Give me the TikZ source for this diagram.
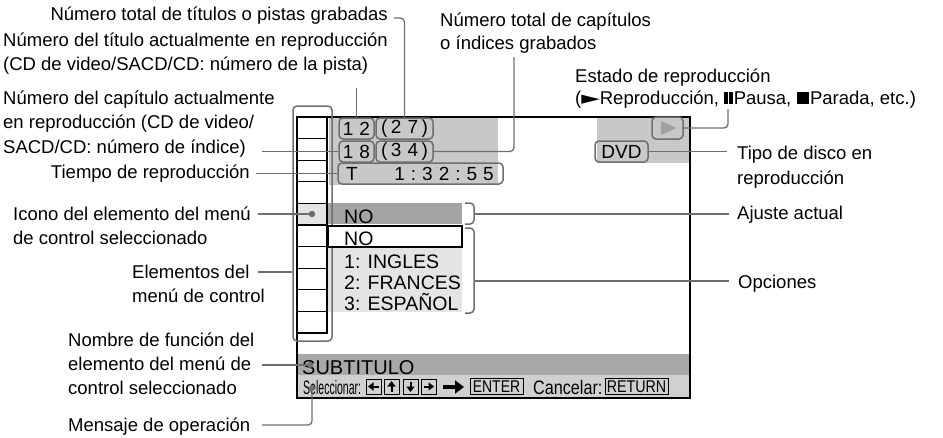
\documentclass[tikz,border=0pt]{standalone}
\usepackage{fontspec}
\setmainfont{Liberation Sans}
\newfontfamily\dejavu{DejaVu Sans}
\usepackage{graphicx}
\usetikzlibrary{arrows.meta,calc}
\definecolor{lg}{HTML}{6E6E6E}
\definecolor{topgray}{HTML}{C8C8C8}
\definecolor{selgray}{HTML}{A4A4A4}
\definecolor{optgray}{HTML}{E4E4E4}
\definecolor{subgray}{HTML}{A8A8A8}
\definecolor{botgray}{HTML}{D0D0D0}
\definecolor{playgray}{HTML}{A0A0A0}
\newcommand\lblfont{\fontsize{18.5}{24}\selectfont}
\newcommand\scrfont{\fontsize{19.5}{21}\selectfont}
\newcommand\cntfont{\fontsize{19}{21}\selectfont}
\newcommand\gp{\hspace{6pt}}
\newcommand\gq{\hspace{3.5pt}}
\newcommand\plyglyph{{\dejavu\scalebox{1.3}[1]{►}}}
\newcommand\pausglyph{\rule{3.5pt}{12.5pt}\hspace{1.5pt}\rule{3.5pt}{12.5pt}\hspace{1pt}}
\newcommand\stopglyph{\rule{12.5pt}{12.5pt}\hspace{1pt}}
\begin{document}
\begin{tikzpicture}[x=1pt,y=-1pt,
  lbl/.style={inner sep=0pt, align=left, font=\lblfont},
  leader/.style={draw=lg, line width=1.3pt},
  rbox/.style={draw=lg, line width=1.5pt, rounded corners=4pt, inner sep=0pt, minimum height=21pt, font=\cntfont},
  keybox/.style={draw=black, line width=0.8pt, inner sep=0pt, minimum width=15pt, minimum height=15pt},
  txtbox/.style={draw=black, line width=0.8pt, inner sep=0pt, minimum height=16pt, font=\fontsize{17}{17}\selectfont},
  scrtxt/.style={anchor=base west, inner sep=0pt, font=\scrfont},
  dotm/.style={circle, fill=lg, inner sep=0pt, minimum size=6.5pt},
  bracket/.style={draw=lg, line width=1.5pt, rounded corners=4pt},
  keyarrow/.style={line width=2pt, -{Triangle[length=5.5pt,width=8pt]}},
]
\useasboundingbox (0,0) rectangle (943,437);

% ---- screen backgrounds ----
\fill[topgray] (329,117) rectangle (498,185);
\fill[topgray] (597,117) rectangle (690,163);
\fill[selgray] (328,203) rectangle (462,224);
\fill[optgray] (328,247) rectangle (462,312);
\fill[subgray] (297,354) rectangle (690,375);
\fill[botgray] (297,375) rectangle (690,398);
\fill[optgray] (297,203) rectangle (327,225);

% ---- icon column ----
\draw[line width=1.2pt] (297,117) rectangle (327,333);
\foreach \i in {1,...,9} \draw[line width=1.2pt] (297,{117+\i*21.6}) -- (327,{117+\i*21.6});

% ---- frame ----
\draw[line width=2pt] (297,117) rectangle (690,398);

\node[draw=lg, line width=1.5pt, rounded corners=4pt, inner sep=0pt, minimum width=39pt, minimum height=235pt] (icons) at (312.5,223.5) {};

% ---- menu area ----
\node[draw=black, line width=1.2pt, fill=white, inner sep=0pt, minimum width=134pt, minimum height=21pt] (nobox) at (395,236.5) {};
\node[scrtxt] (cur) at (344,223) {NO};
\node[scrtxt] (opt0) at (344,245) {NO};
\node[scrtxt] (opt1) at (344,268) {1: INGLES};
\node[scrtxt] (opt2) at (344,289) {2: FRANCES};
\node[scrtxt] (opt3) at (344,310) {3: ESPAÑOL};

\draw[bracket] (465,203) -- (474,203) -- (474,224) -- (465,224);
\draw[bracket] (465,228) -- (474,228) -- (474,313) -- (465,313);
\coordinate (br1) at (474,214);
\coordinate (br2) at (474,281);

% ---- counters ----
\node[rbox, minimum width=35pt] (c12) at (356.5,128.5) {1\gp 2};
\node[rbox, minimum width=57pt] (c27) at (404.5,128.5) {(\gq 2\gp 7\gq )};
\node[rbox, minimum width=35pt] (c18) at (356.5,151.5) {1\gp 8};
\node[rbox, minimum width=57pt] (c34) at (404.5,151.5) {(\gq 3\gp 4\gq )};
\node[rbox, minimum width=165pt] (ctime) at (420.5,173.5) {};
\node[anchor=base west, inner sep=0pt, font=\cntfont] (tT) at (346,180) {T};
\node[anchor=base east, inner sep=0pt, font=\cntfont] (tval) at (494,180) {1\gp :\gp 3\gp 2\gp :\gp 5\gp 5};

\node[rbox, minimum width=53pt] (dvd) at (621.5,151.5) {DVD};
\node[rbox, minimum width=31pt, minimum height=22pt] (play) at (667.5,128) {};
\fill[playgray] (661,121) -- (676,128) -- (661,135) -- cycle;

% ---- bottom bars ----
\node[anchor=base west, inner sep=0pt, font=\fontsize{20}{20}\selectfont] (subt) at (302,374) {SUBTITULO};
\node[anchor=base west, inner sep=0pt, font=\fontsize{19.5}{19.5}\selectfont] (sel) at (303,394) {\scalebox{0.54}[1]{Seleccionar:}};
\node[keybox] (kl) at (373.5,386.5) {};
\node[keybox] (ku) at (391.5,386.5) {};
\node[keybox] (kd) at (410.5,386.5) {};
\node[keybox] (kr) at (428.5,386.5) {};
\draw[keyarrow] ($(kl)+(5,0)$) -- ($(kl)+(-5.5,0)$);
\draw[keyarrow] ($(ku)+(0,5)$) -- ($(ku)+(0,-5.5)$);
\draw[keyarrow] ($(kd)+(0,-5)$) -- ($(kd)+(0,5.5)$);
\draw[keyarrow] ($(kr)+(-5,0)$) -- ($(kr)+(5.5,0)$);
\coordinate (bigA) at (443,387);
\coordinate (bigB) at (464,387);
\draw[line width=4pt, -{Triangle[length=9pt,width=13pt]}] (bigA) -- (bigB);
\node[txtbox, minimum width=53pt] (enter) at (496.5,386.5) {\scalebox{0.82}[1]{ENTER}};
\node[anchor=base west, inner sep=0pt, font=\fontsize{19.5}{19.5}\selectfont] (canc) at (533,394) {\scalebox{0.83}[1]{Cancelar:}};
\node[txtbox, minimum width=63pt] (ret) at (636.5,386.5) {\scalebox{0.84}[1]{RETURN}};

% ---- dots ----
\node[dotm] (icondot) at (312,214) {};
\node[dotm, minimum size=6pt] (subdot) at (310,365) {};
\node[dotm, minimum size=6pt] (msgdot) at (312,388) {};

% ---- labels (base anchor = baseline of last line) ----
\node[lbl, anchor=base east] (l1) at (388,20) {Número total de títulos o pistas grabadas};
\node[lbl, anchor=base west] (l2) at (3,70) {Número del título actualmente en reproducción\\(CD de video/SACD/CD: número de la pista)};
\node[lbl, anchor=base west, font=\fontsize{18.5}{23}\selectfont] (l3) at (440,49) {Número total de capítulos\\o índices grabados};
\node[lbl, anchor=base west, font=\fontsize{18.5}{24.5}\selectfont] (l4) at (3,153) {Número del capítulo actualmente\\en reproducción (CD de video/\\SACD/CD: número de índice)};
\node[lbl, anchor=base east] (l5) at (250,178) {Tiempo de reproducción};
\node[lbl, anchor=base west] (l6) at (13,244) {Icono del elemento del menú\\de control seleccionado};
\node[lbl, anchor=base west] (l7) at (132,302) {Elementos del\\menú de control};
\node[lbl, anchor=base west] (l8) at (68,394) {Nombre de función del\\elemento del menú de\\control seleccionado};
\node[lbl, anchor=base west] (l9) at (68,431) {Mensaje de operación};
\node[inner sep=0pt, align=left, font=\fontsize{18.5}{22}\selectfont, anchor=base west] (l10) at (575,104) {Estado de reproducción\\(\plyglyph Reproducción, \pausglyph Pausa, \stopglyph Parada, etc.)};
\node[lbl, anchor=base west, font=\fontsize{18.5}{25}\selectfont] (l11) at (737,184) {Tipo de disco en\\reproducción};
\node[lbl, anchor=base west] (l12) at (737,219) {Ajuste actual};
\node[lbl, anchor=base west] (l13) at (738,288) {Opciones};

% ---- leader start coordinates ----
\coordinate (l1s) at ($(l1.base east)+(6,-2)$);
\coordinate (l2s) at (c12.north |- 0,88);
\coordinate (l3s) at (514,57);
\coordinate (l4s) at (262,0 |- c18.west);
\coordinate (l5s) at (256,0 |- ctime.west);
\coordinate (l6s) at (258,214);
\coordinate (l7s) at (258,272);
\coordinate (l8s) at (262,365);
\coordinate (l9s) at (262,425);
\coordinate (l10s) at (728,109);
\coordinate (l11s) at (727,0 |- dvd.east);
\coordinate (l12s) at (729,214);
\coordinate (l13s) at (729,281);

% ---- leaders ----
\draw[leader, rounded corners=4pt] (l1s) -| (c27.north);
\draw[leader] (l2s) -- (c12.north);
\draw[leader, rounded corners=4pt] (l3s) |- (c34.east);
\draw[leader] (l4s) -- (c18.west);
\draw[leader] (l5s) -- (ctime.west);
\draw[leader] (l6s) -- (icondot.center);
\draw[leader] (l7s) -- (l7s -| icons.west);
\draw[leader] (l8s) -- (subdot.center);
\draw[leader, rounded corners=4pt] (l9s) -| (msgdot.center);
\draw[leader, rounded corners=4pt] (play.east) -| (l10s);
\draw[leader] (dvd.east) -- (l11s);
\draw[leader] (br1) -- (l12s);
\draw[leader] (br2) -- (l13s);
\end{tikzpicture}
\end{document}
